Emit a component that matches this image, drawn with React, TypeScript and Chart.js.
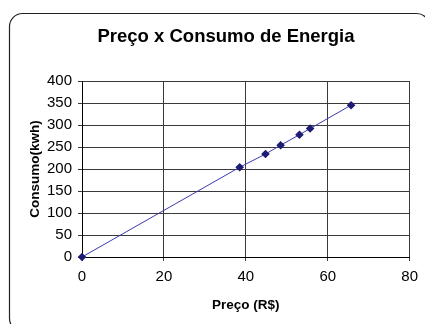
import React, { useEffect, useRef } from "react";
import { Chart, registerables } from "chart.js";

Chart.register(...registerables);

const title = "Preço x Consumo de Energia";
const xTitle = "Preço (R$)";
const yTitle = "Consumo(kwh)";
const prices = [0, 38.5, 44.8, 48.5, 53.1, 55.7, 65.7];
const consumption = [0, 204, 234, 254, 278, 292, 345];

const FONT = "'Liberation Sans', Arial, sans-serif";

const decor = {
  id: "decor",
  beforeDraw(chart: any) {
    const ctx = chart.ctx;
    ctx.save();
    ctx.fillStyle = "#ffffff";
    ctx.fillRect(0, 0, chart.width, chart.height);
    ctx.strokeStyle = "#222";
    ctx.lineWidth = 1.2;
    ctx.beginPath();
    ctx.roundRect(9.5, 13.5, 420, 318, 13);
    ctx.stroke();
    ctx.restore();
  },
  afterDraw(chart: any) {
    const ctx = chart.ctx;
    const a = chart.chartArea;
    ctx.save();
    ctx.fillStyle = "#000";
    ctx.textAlign = "center";
    ctx.textBaseline = "alphabetic";
    ctx.font = `bold 18.5px ${FONT}`;
    ctx.fillText(title, 226, 42);
    ctx.font = `bold 13.5px ${FONT}`;
    ctx.fillText(xTitle, (a.left + a.right) / 2, 308.5);
    ctx.translate(39, (a.top + a.bottom) / 2);
    ctx.rotate(-Math.PI / 2);
    ctx.fillText(yTitle, 0, 0);
    ctx.restore();
  },
};

export default function App() {
  const ref = useRef<HTMLCanvasElement>(null);
  useEffect(() => {
    if (!ref.current) return;
    const chart = new Chart(ref.current, {
      type: "scatter",
      data: {
        datasets: [
          {
            data: prices.map((p, i) => ({ x: p, y: consumption[i] })),
            showLine: true,
            clip: false,
            borderColor: "#3b3bb0",
            borderWidth: 1,
            pointStyle: "rectRot",
            pointRadius: 4.3,
            pointBackgroundColor: "#1c1c72",
            pointBorderColor: "#1c1c72",
            pointBorderWidth: 0,
          },
        ],
      },
      options: {
        responsive: false,
        animation: false,
        layout: { padding: { left: 0, top: 81, right: 15, bottom: 0 } },
        plugins: {
          legend: { display: false },
          tooltip: { enabled: false },
          title: { display: false },
        },
        scales: {
          x: {
            type: "linear",
            min: 0,
            max: 80,
            ticks: {
              stepSize: 20,
              padding: 7,
              color: "#000",
              font: { family: FONT, size: 15 },
            },
            grid: { color: "#3a3a3a", tickLength: 4, lineWidth: 1 },
            border: { color: "#000" },
            afterFit(s: any) {
              s.height = 67;
            },
          },
          y: {
            type: "linear",
            min: 0,
            max: 400,
            ticks: {
              stepSize: 50,
              padding: 6,
              color: "#000",
              font: { family: FONT, size: 15 },
            },
            grid: { color: "#3a3a3a", tickLength: 4, lineWidth: 1 },
            border: { color: "#000" },
            afterFit(s: any) {
              s.width = 82;
            },
          },
        },
      },
      plugins: [decor],
    });
    return () => chart.destroy();
  }, []);
  return (
    <div style={{ position: "absolute", left: 0, top: 0, width: 425, height: 324 }}>
      <canvas ref={ref} width={425} height={324} style={{ width: 425, height: 324, display: "block" }} />
    </div>
  );
}
